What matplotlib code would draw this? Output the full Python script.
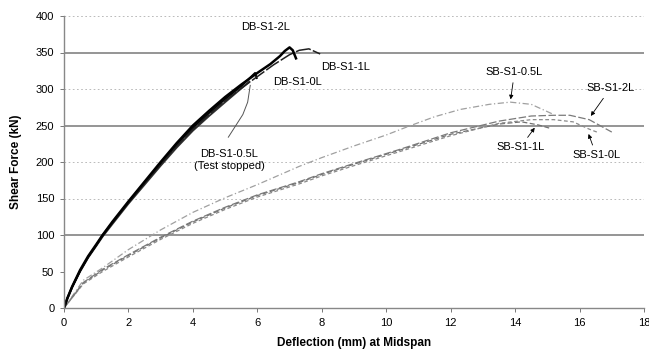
import matplotlib
matplotlib.use('Agg')
from matplotlib import pyplot as plt

plt.rcParams['font.family'] = ['Liberation Sans', 'DejaVu Sans']

# deep beams (DB) - deflection (mm), shear force (kN)
db_2l_x = [0, 0.1, 0.25, 0.5, 0.75, 1.0, 1.2, 1.5, 2.0, 2.5, 3.0, 3.5, 4.0, 4.5, 5.0, 5.5, 6.0,
           6.4, 6.7, 6.85, 7.0, 7.1, 7.2]
db_2l_y = [0, 13, 29, 52, 71, 87, 100, 118, 146, 173, 200, 226, 250, 270, 289, 306, 322,
           334, 345, 352, 357, 353, 342]
db_1l_x = [0, 0.1, 0.25, 0.5, 0.75, 1.0, 1.2, 1.5, 2.0, 2.5, 3.0, 3.5, 4.0, 4.5, 5.0, 5.5, 6.0,
           6.5, 7.0, 7.3, 7.6, 7.8, 7.95]
db_1l_y = [0, 13, 28, 51, 70, 86, 99, 117, 144, 171, 197, 222, 245, 265, 284, 301, 317,
           333, 347, 353, 355, 351, 348]
db_0l_x = [0, 0.1, 0.25, 0.5, 0.75, 1.0, 1.2, 1.5, 2.0, 2.5, 3.0, 3.5, 4.0, 4.5, 5.0, 5.5,
           5.93, 5.98]
db_0l_y = [0, 13, 29, 51, 70, 86, 100, 117, 145, 172, 198, 224, 247, 267, 286, 304,
           322, 315]
db_05l_x = [0, 0.1, 0.25, 0.5, 0.75, 1.0, 1.2, 1.5, 2.0, 2.5, 3.0, 3.5, 4.0, 4.5, 5.0, 5.4, 5.75]
db_05l_y = [0, 12, 28, 50, 69, 85, 98, 115, 143, 169, 195, 220, 243, 263, 282, 297, 310]

# shallow beams (SB)
sb_05l_x = [0, 0.6, 1.2, 2.0, 3.0, 4.0, 5.0, 6.0, 7.3, 8.0, 9.0, 10.0, 10.7, 11.5, 12.3, 13.2,
            13.85, 14.5, 15.2]
sb_05l_y = [0, 38, 55, 80, 107, 131, 151, 169, 194, 206, 222, 237, 249, 262, 272, 279,
            282, 279, 265]
sb_1l_x = [0, 0.6, 1.2, 2.0, 3.0, 4.0, 5.0, 6.0, 7.3, 8.0, 9.0, 10.4, 12.0, 13.5, 14.2, 14.7, 15.1]
sb_1l_y = [0, 34, 52, 72, 96, 118, 137, 154, 172, 183, 197, 216, 238, 252, 255, 251, 246]
sb_0l_x = [0, 0.6, 1.2, 2.0, 3.0, 4.0, 5.0, 6.0, 7.3, 8.0, 9.0, 10.4, 12.0, 13.5, 14.5, 15.2,
           15.8, 16.3, 16.6]
sb_0l_y = [0, 33, 50, 70, 94, 116, 135, 152, 170, 181, 195, 214, 236, 253, 258, 258,
           255, 245, 240]
sb_2l_x = [0, 0.6, 1.2, 2.0, 3.0, 4.0, 5.0, 6.0, 7.3, 8.0, 9.0, 10.4, 12.0, 13.5, 14.5, 15.2,
           15.7, 16.3, 17.0]
sb_2l_y = [0, 35, 53, 73, 97, 119, 138, 155, 173, 184, 198, 217, 240, 256, 263, 264,
           264, 258, 241]

fig = plt.figure(figsize=(6.49, 3.52), dpi=100)
ax = fig.add_axes([64 / 649, 44 / 352, 580 / 649, 292 / 352])

# horizontal gridlines: some solid, some faint dotted
for v in [100, 250, 350]:
    ax.axhline(v, color='#8c8c8c', lw=1.3, zorder=0)
for v in [150, 200, 300, 400]:
    ax.axhline(v, color='#b0b0b0', lw=0.6, ls=(0, (2, 3)), zorder=0)

ax.plot(sb_05l_x, sb_05l_y, color='#a0a0a0', lw=0.9, ls=(0, (5, 2, 1, 2)))
ax.plot(sb_1l_x, sb_1l_y, color='#707070', lw=0.9, ls=(0, (4, 2)))
ax.plot(sb_0l_x, sb_0l_y, color='#8a8a8a', lw=0.9, ls=(0, (3, 2)))
ax.plot(sb_2l_x, sb_2l_y, color='#7a7a7a', lw=0.9, ls=(0, (6, 2)))

ax.plot(db_05l_x, db_05l_y, color='#303030', lw=1.4)
ax.plot(db_0l_x, db_0l_y, color='black', lw=1.4)
ax.plot(db_1l_x, db_1l_y, color='#202020', lw=1.1, ls=(0, (10, 1.5)))
ax.plot(db_2l_x, db_2l_y, color='black', lw=1.8)

fs = 8
ax.text(6.25, 385, 'DB-S1-2L', fontsize=fs, ha='center', va='center')
ax.text(8.75, 330, 'DB-S1-1L', fontsize=fs, ha='center', va='center')
ax.text(7.25, 310, 'DB-S1-0L', fontsize=fs, ha='center', va='center')
ax.text(5.12, 203, 'DB-S1-0.5L\n(Test stopped)', fontsize=fs, ha='center', va='center',
        linespacing=1.3)
ax.plot([5.1, 5.55, 5.7, 5.78], [234, 265, 282, 305], color='#555555', lw=0.7)

arrow = dict(arrowstyle='-|>', color='black', lw=0.6, mutation_scale=6)
ax.annotate('SB-S1-0.5L', xy=(13.85, 282), xytext=(13.98, 323), fontsize=fs,
            ha='center', va='center', arrowprops=arrow)
ax.annotate('SB-S1-2L', xy=(16.3, 260), xytext=(16.96, 301), fontsize=fs,
            ha='center', va='center', arrowprops=arrow)
ax.annotate('SB-S1-1L', xy=(14.66, 250), xytext=(14.16, 220), fontsize=fs,
            ha='center', va='center', arrowprops=arrow)
ax.annotate('SB-S1-0L', xy=(16.25, 242), xytext=(16.52, 209), fontsize=fs,
            ha='center', va='center', arrowprops=arrow)

ax.set_xlim(0, 18)
ax.set_ylim(0, 400)
ax.set_xticks(range(0, 19, 2))
ax.set_yticks(range(0, 401, 50))
ax.tick_params(axis='both', labelsize=fs, length=3, width=0.7, color='#777777', pad=4)
for s in ['top', 'right']:
    ax.spines[s].set_visible(False)
for s in ['left', 'bottom']:
    ax.spines[s].set_color('#888888')
    ax.spines[s].set_linewidth(1.0)

ax.set_xlabel('Deflection (mm) at Midspan', fontsize=8.5, fontweight='bold', labelpad=7)
ax.set_ylabel('Shear Force (kN)', fontsize=8.5, fontweight='bold', labelpad=10)

fig.savefig('out.png', dpi=100)
